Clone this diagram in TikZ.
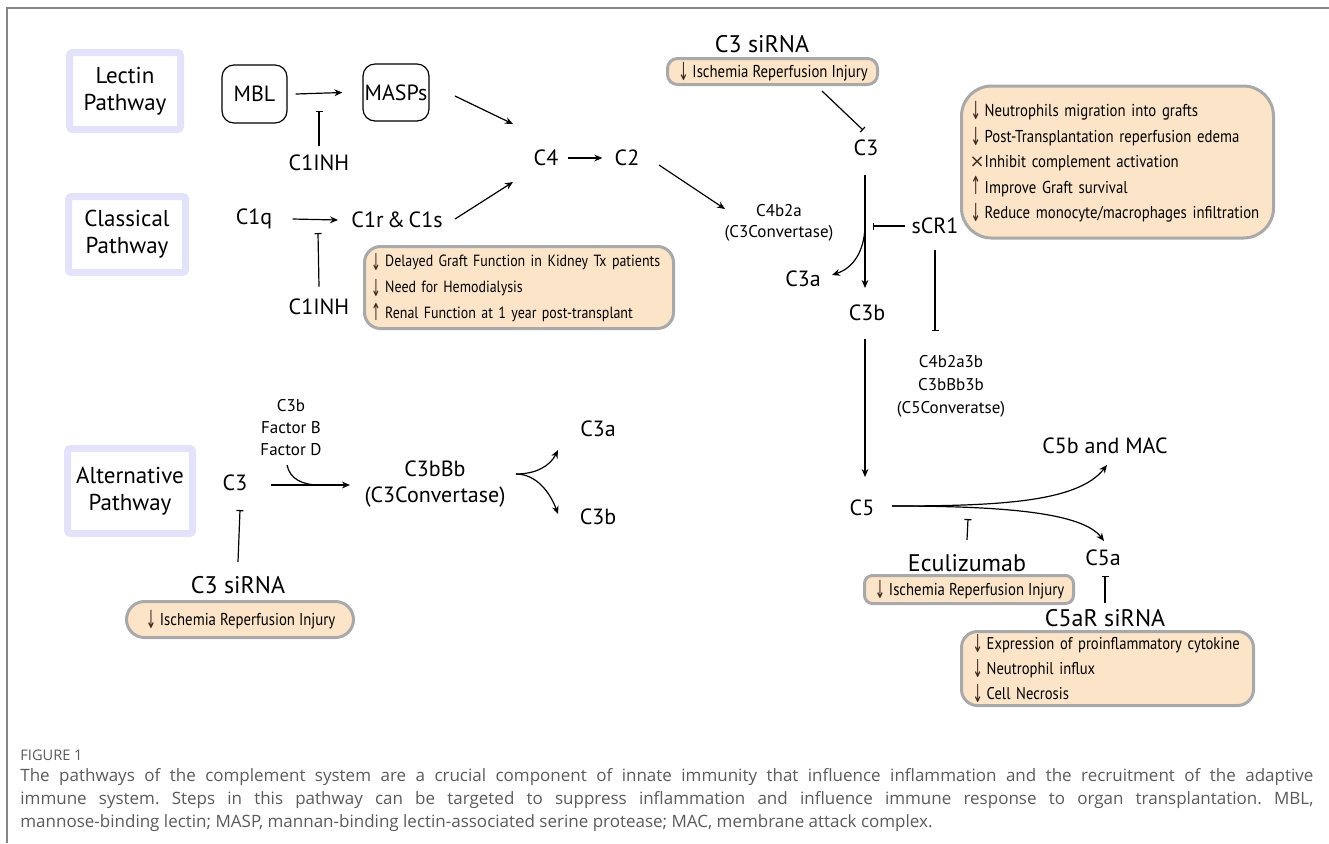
\documentclass[tikz,border=0pt]{standalone}
\usepackage{fontspec}
\usepackage{graphicx}
\setmainfont{PT Sans}
\newfontfamily\symf{DejaVu Sans}
\newfontfamily\condf{PT Sans}[FakeStretch=0.86]
\newfontfamily\capf{Open Sans}
\usetikzlibrary{arrows.meta}
\definecolor{peach}{HTML}{FCE4C8}
\definecolor{boxgray}{HTML}{A9A9A9}
\definecolor{lav}{HTML}{E2E2FA}
\definecolor{framegray}{HTML}{858585}
\definecolor{capgray}{HTML}{5A5A5A}
\definecolor{symc}{HTML}{3A2A1E}
\newcommand\dn{\makebox[7.6pt][l]{\hspace{0.6pt}\raisebox{-1.6pt}{\color{symc}\symf\scalebox{0.72}[1.45]{↓}}}}
\newcommand\upar{\makebox[7.6pt][l]{\hspace{0.6pt}\raisebox{-0.8pt}{\color{symc}\symf\scalebox{0.72}[1.45]{↑}}}}
\newcommand\xx{\makebox[7.6pt][l]{\color{symc}\symf\fontsize{9}{9}\selectfont ×}}
\frenchspacing
\hyphenpenalty=10000
\exhyphenpenalty=10000
\begin{document}
\begin{tikzpicture}[x=0.5pt,y=-0.5pt,
  lbl/.style={font=\fontsize{11}{13}\selectfont, inner sep=0pt},
  hd/.style={font=\fontsize{12}{14}\selectfont, inner sep=0pt},
  sm/.style={font=\fontsize{8.5}{10.5}\selectfont, align=center, inner sep=0pt},
  pw/.style={draw=lav, line width=3.5pt, fill=white, align=center,
             font=\fontsize{11.5}{13.5}\selectfont, rounded corners=1.5pt, inner sep=0pt},
  rbox/.style={draw=black, line width=0.6pt, rounded corners=6pt,
               font=\fontsize{11}{13}\selectfont, inner sep=0pt},
  effect/.style={draw=boxgray, fill=peach, line width=1.5pt,
                 font=\condf\fontsize{8.6}{13}\selectfont, inner ysep=0pt},
  act/.style={-{Stealth[length=4pt,width=3.4pt]}, line width=0.6pt},
  inh/.style={-{Bar[width=3.5pt]}, line width=0.6pt},
  plain/.style={line width=0.6pt},
  captext/.style={anchor=west, inner sep=0pt, text=capgray, font=\capf\fontsize{8.5}{10}\selectfont}
]
\useasboundingbox (0,0) rectangle (1329,843);
% frame
\draw[framegray, line width=1pt] (7,843) -- (7,8) -- (1329,8);

% pathway boxes
\node[pw, minimum width=55.5pt, minimum height=38.5pt] (lectin) at (125,91) {Lectin\\Pathway};
\node[pw, minimum width=58.5pt, minimum height=38pt] (classical) at (127,234.5) {Classical\\Pathway};
\node[pw, minimum width=62.5pt, minimum height=42.5pt] (alternative) at (130,491) {Alternative\\Pathway};

% lectin pathway
\node[rbox, minimum width=32.5pt, minimum height=29pt] (MBL) at (254.5,94) {MBL};
\node[rbox, minimum width=33pt, minimum height=28.5pt] (MASPs) at (396,92.5) {MASPs};
\node[lbl] (C1INHa) at (319,163) {C1INH};
\coordinate (i1) at (319,111);
\draw[act] ([xshift=4pt]MBL.east) -- ([xshift=-10pt]MASPs.west);
\draw[inh] ([yshift=4.5pt]C1INHa.north) -- (i1);

% classical pathway
\node[lbl] (C1q) at (254,219) {C1q};
\node[lbl] (C1rs) at (397,220) {C1r\,\&\,C1s};
\node[lbl] (C1INHb) at (319,307) {C1INH};
\coordinate (i2) at (318,233);
\draw[act] ([xshift=10pt]C1q.east) -- ([xshift=-6.5pt]C1rs.west);
\draw[inh] ([yshift=6pt]C1INHb.north) -- (i2);

\node[effect, minimum width=154.5pt, minimum height=41pt, text width=149pt, inner xsep=2.75pt, rounded corners=8pt, align=left,
      font=\condf\fontsize{8.1}{13}\selectfont] (box1) at (519,287.5)
 {\mbox{\dn Delayed Graft Function in Kidney Tx patients}\\ \mbox{\dn Need for Hemodialysis}\\ \mbox{\upar Renal Function at 1 year post-transplant}};

% C4 / C2
\node[lbl] (C4) at (546,158) {C4};
\node[lbl] (C2) at (627,158) {C2};
\coordinate (m1) at (455,96);
\coordinate (m2) at (455,219);
\coordinate (c4a) at (513,124);
\coordinate (c4b) at (513,182);
\draw[act] (m1) -- (c4a);
\draw[act] (m2) -- (c4b);
\draw[act] ([xshift=4.5pt]C4.east) -- ([xshift=-6pt]C2.west);
\node[sm] (C4b2a) at (779,223) {C4b2a\\(C3Convertase)};
\coordinate (c2s) at (659,165);
\coordinate (c2e) at (725,209);
\draw[act] (c2s) -- (c2e);

% top C3 siRNA
\node[hd] (siT) at (762,44) {C3 siRNA};
\node[effect, minimum width=105pt, minimum height=13pt, rounded corners=5pt, align=center, inner xsep=2pt] (boxT) at (772.5,71.5)
 {\dn Ischemia Reperfusion Injury};
\node[lbl] (C3) at (866,148) {C3};
\coordinate (s1) at (822,91);
\coordinate (s2) at (863,130);
\draw[inh] (s1) -- (s2);

% C3 cleavage
\node[lbl] (C3a) at (803,279) {C3a};
\node[lbl] (C3b) at (867,313) {C3b};
\node[lbl] (sCR1) at (935,226) {sCR1};
\coordinate (c3s) at (865,175);
\coordinate (c3e) at (865,288);
\coordinate (c3m) at (865,227);
\coordinate (c3ae) at (832,275);
\draw[act] (c3s) -- (c3e);
\draw[act] (c3m) .. controls (864,252) and (853,268) .. (c3ae);
\coordinate (sc1) at (873,226);
\coordinate (sc2) at (935,331);
\draw[inh] ([xshift=-3pt]sCR1.west) -- (sc1);
\draw[inh] ([yshift=-8pt]sCR1.south) -- (sc2);

\node[effect, minimum width=156pt, minimum height=76pt, text width=148pt, inner xsep=4pt, rounded corners=15pt, align=left,
      font=\condf\fontsize{8.6}{12.75}\selectfont] (box2) at (1117.5,162)
 {\mbox{\dn Neutrophils migration into grafts}\\
  \mbox{\dn Post-Transplantation reperfusion edema}\\
  \mbox{\xx Inhibit complement activation}\\
  \mbox{\upar Improve Graft survival}\\
  \mbox{\dn Reduce monocyte/macrophages infiltration}};

\node[sm, font=\fontsize{8.5}{11.5}\selectfont] (C5conv) at (951,386) {C4b2a3b\\C3bBb3b\\(C5Converatse)};

% C5
\node[lbl] (C5) at (862,508) {C5};
\coordinate (c5s) at (865,339);
\coordinate (c5e) at (865,477);
\draw[act] (c5s) -- (c5e);
\node[lbl] (C5b) at (1105,446) {C5b and MAC};
\node[lbl] (C5a) at (1103,558) {C5a};
\coordinate (c5o) at (892,506);
\coordinate (c5be) at (1107,465);
\coordinate (c5ae) at (1104,541);
\draw[act] (c5o) .. controls (1000,506) and (1078,502) .. (c5be);
\draw[act] (c5o) .. controls (1000,506) and (1082,512) .. (c5ae);

\node[hd] (ecu) at (967,563) {Eculizumab};
\coordinate (e1) at (968,519);
\draw[inh] ([yshift=7pt]ecu.north) -- (e1);
\node[effect, minimum width=104.5pt, minimum height=14pt, rounded corners=4pt, align=center, inner xsep=2pt] (box3) at (969,589.5)
 {\dn Ischemia Reperfusion Injury};

\node[hd] (c5ar) at (1105,618) {C5aR siRNA};
\coordinate (e2) at (1105,576);
\draw[inh] ([yshift=3pt]c5ar.north) -- (e2);
\node[effect, minimum width=146pt, minimum height=37pt, text width=136pt, inner xsep=5pt, rounded corners=8pt, align=left,
      font=\condf\fontsize{8.5}{12.5}\selectfont] (box4) at (1107.5,668.5)
 {\mbox{\dn Expression of proinflammatory cytokine}\\
  \mbox{\dn Neutrophil influx}\\
  \mbox{\dn Cell Necrosis}};

% alternative pathway
\node[lbl] (C3alt) at (235,483) {C3};
\node[sm, font=\fontsize{8.5}{11}\selectfont] (fac) at (291,428) {C3b\\Factor B\\Factor D};
\node[lbl, align=center] (C3bBb) at (435,484) {C3bBb\\(C3Convertase)};
\coordinate (a1) at (271,485);
\coordinate (a2) at (350,485);
\coordinate (f1) at (287,465);
\coordinate (f2) at (320,485);
\draw[act] (a1) -- (a2);
\draw[plain] (f1) .. controls (290,479) and (302,485) .. (f2);
\node[lbl] (C3aalt) at (598,429) {C3a};
\node[lbl] (C3balt) at (598,517) {C3b};
\coordinate (br) at (516,474);
\coordinate (bra) at (558,450);
\coordinate (brb) at (558,514);
\draw[act] (br) .. controls (536,474) and (550,466) .. (bra);
\draw[act] (br) .. controls (536,474) and (550,492) .. (brb);

\node[hd] (siB) at (238,585) {C3 siRNA};
\coordinate (e3) at (240,510);
\draw[inh] ([yshift=7pt]siB.north) -- (e3);
\node[effect, minimum width=113.5pt, minimum height=18pt, rounded corners=9pt, align=center, inner xsep=2pt] (box5) at (240,619.5)
 {\dn Ischemia Reperfusion Injury};

% caption
\node[captext, font=\capf\fontsize{7.3}{8}\selectfont] (fig) at (20,755) {FIGURE 1};
\node[captext] (cap1) at (20,777)
 {\makebox[646.5pt][s]{The pathways of the complement system are a crucial component of innate immunity that influence inflammation and the recruitment of the adaptive}};
\node[captext] (cap2) at (20,800)
 {\makebox[646.5pt][s]{immune system. Steps in this pathway can be targeted to suppress inflammation and influence immune response to organ transplantation. MBL,}};
\node[captext] (cap3) at (20,823)
 {mannose-binding lectin; MASP, mannan-binding lectin-associated serine protease; MAC, membrane attack complex.};
\end{tikzpicture}
\end{document}
